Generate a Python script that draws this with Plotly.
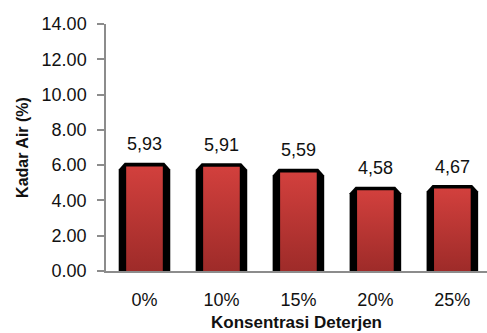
import plotly.graph_objects as go

# Moisture content by detergent concentration
categories = ["0%", "10%", "15%", "20%", "25%"]
kadar_air = [5.93, 5.91, 5.59, 4.58, 4.67]
y_ticks = [0, 2, 4, 6, 8, 10, 12, 14]

# Bar geometry in axis units (x: category index, y: percent)
OUTER_HALF = 0.335   # black casing half-width
INNER_HALF = 0.238   # red face half-width
RIM = 0.2            # casing rises above the value
CH_X, CH_Y = 0.078, 0.37  # chamfer of the casing's top corners

fig = go.Figure()

for i, v in enumerate(kadar_air):
    top = v + RIM
    xs = [i - OUTER_HALF, i - OUTER_HALF, i - OUTER_HALF + CH_X,
          i + OUTER_HALF - CH_X, i + OUTER_HALF, i + OUTER_HALF, i - OUTER_HALF]
    ys = [0, top - CH_Y, top, top, top - CH_Y, 0, 0]
    fig.add_trace(go.Scatter(
        x=xs, y=ys, mode="lines", fill="toself",
        fillcolor="#000000", line=dict(color="#000000", width=0),
        hoverinfo="skip", showlegend=False,
    ))
    fig.add_trace(go.Scatter(
        x=[i - INNER_HALF, i - INNER_HALF, i + INNER_HALF, i + INNER_HALF, i - INNER_HALF],
        y=[0, v, v, 0, 0], mode="lines", fill="toself",
        fillgradient=dict(type="vertical",
                          colorscale=[[0, "#9e2b29"], [1, "#d2403d"]]),
        line=dict(width=0), hoverinfo="skip", showlegend=False,
    ))
    fig.add_annotation(
        x=i, y=v, text=f"{v:.2f}".replace(".", ","),
        showarrow=False, yanchor="bottom", yshift=10,
        font=dict(family="Liberation Sans, Arial", size=18, color="#111111"),
    )

fig.update_layout(
    width=487, height=333,
    margin=dict(l=106, r=0, t=24, b=62),
    paper_bgcolor="white", plot_bgcolor="white",
    showlegend=False,
    font=dict(family="Liberation Sans, Arial", size=18, color="#111111"),
)

fig.update_xaxes(
    range=[-0.5, 4.45],
    tickmode="array", tickvals=list(range(len(categories))), ticktext=categories,
    showgrid=False, zeroline=False,
    showline=True, linecolor="#8c8c8c", linewidth=1.5,
    ticks="", ticklabelstandoff=12,
    tickfont=dict(size=18),
    title=dict(text="<b>Konsentrasi Deterjen</b>", font=dict(size=17), standoff=7),
)

fig.update_yaxes(
    range=[0, 14],
    tickmode="array", tickvals=y_ticks, ticktext=[f"{t:.2f}" for t in y_ticks],
    showgrid=False, zeroline=False,
    showline=True, linecolor="#8c8c8c", linewidth=1.5,
    ticks="outside", ticklen=7, tickcolor="#8c8c8c", tickwidth=1.5,
    ticklabelstandoff=7,
    tickfont=dict(size=18),
    title=dict(text="<b>Kadar Air (%)</b>", font=dict(size=16), standoff=9),
)

fig.write_html("out.html")
